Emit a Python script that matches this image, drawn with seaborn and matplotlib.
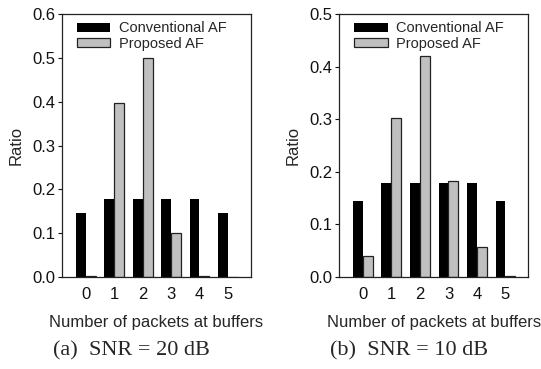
import matplotlib
matplotlib.use("Agg")
import matplotlib.pyplot as plt
import seaborn as sns
import pandas as pd

# ---- data ----
packets = ["0", "1", "2", "3", "4", "5"]
conventional_20dB = [0.145, 0.178, 0.178, 0.178, 0.178, 0.145]
proposed_20dB = [0.002, 0.396, 0.500, 0.100, 0.002, 0.0]
conventional_10dB = [0.145, 0.178, 0.178, 0.178, 0.178, 0.145]
proposed_10dB = [0.039, 0.302, 0.420, 0.182, 0.057, 0.002]
series_names = ["Conventional AF", "Proposed AF"]
yticks_a = [0.0, 0.1, 0.2, 0.3, 0.4, 0.5, 0.6]
yticks_b = [0.0, 0.1, 0.2, 0.3, 0.4, 0.5]
captions = ["(a)  SNR = 20 dB", "(b)  SNR = 10 dB"]
xlabel = "Number of packets at buffers"
ylabel = "Ratio"


def long_df(conv, prop):
    return pd.DataFrame({
        "packets": packets * 2,
        "ratio": list(conv) + list(prop),
        "scheme": [series_names[0]] * len(packets) + [series_names[1]] * len(packets),
    })


sns.set_theme(style="white")
plt.rcParams["font.family"] = ["Liberation Sans", "DejaVu Sans"]

fig = plt.figure(figsize=(5.41, 3.69), dpi=100)
ax_a = fig.add_axes([62 / 541, 92 / 369, 188.7 / 541, 263 / 369])
ax_b = fig.add_axes([339.3 / 541, 92 / 369, 189 / 541, 263 / 369])

colors = ["#000000", "#c0c0c0"]

for ax, conv, prop, yt in [(ax_a, conventional_20dB, proposed_20dB, yticks_a),
                           (ax_b, conventional_10dB, proposed_10dB, yticks_b)]:
    df = long_df(conv, prop)
    sns.barplot(data=df, x="packets", y="ratio", hue="scheme", order=packets,
                hue_order=series_names, palette=colors, width=0.7,
                saturation=1, ax=ax, legend=True)
    for patch in ax.patches:
        fc = patch.get_facecolor()
        if fc[0] > 0.5:
            patch.set_edgecolor("#222222")
            patch.set_linewidth(0.9)
        else:
            patch.set_edgecolor("none")
            patch.set_linewidth(0)
    ax.set_xlim(-0.83, 5.8)
    ax.set_ylim(yt[0], yt[-1])
    ax.set_yticks(yt)
    ax.set_yticklabels([f"{v:.1f}" for v in yt])
    ax.tick_params(axis="y", which="both", left=True, length=3, width=0.8,
                   pad=2, labelsize=12, colors="#111111", direction="out")
    ax.tick_params(axis="x", length=0, pad=7.5, labelsize=12, colors="#111111")
    for s in ax.spines.values():
        s.set_visible(True)
        s.set_color("#222222")
        s.set_linewidth(0.9)
    ax.set_xlabel(xlabel, fontsize=12, labelpad=9)
    ax.set_ylabel(ylabel, fontsize=12)
    ax.yaxis.set_label_coords(-0.205, 0.5)
    ax.grid(False)
    handles, labels = ax.get_legend_handles_labels()
    ax.legend(handles, labels, loc="upper left", bbox_to_anchor=(0.078, 0.972),
              frameon=False, fontsize=10.5, borderpad=0, borderaxespad=0,
              handlelength=2.3, handleheight=0.56, handletextpad=0.6,
              labelspacing=0.1)

fig.text(131.5 / 541, 1 - 350.7 / 369, captions[0], ha="center", va="center",
         family=["Liberation Serif", "DejaVu Serif"], fontsize=16)
fig.text(409 / 541, 1 - 350.7 / 369, captions[1], ha="center", va="center",
         family=["Liberation Serif", "DejaVu Serif"], fontsize=16)

fig.savefig("out.png", dpi=100, facecolor="white")
